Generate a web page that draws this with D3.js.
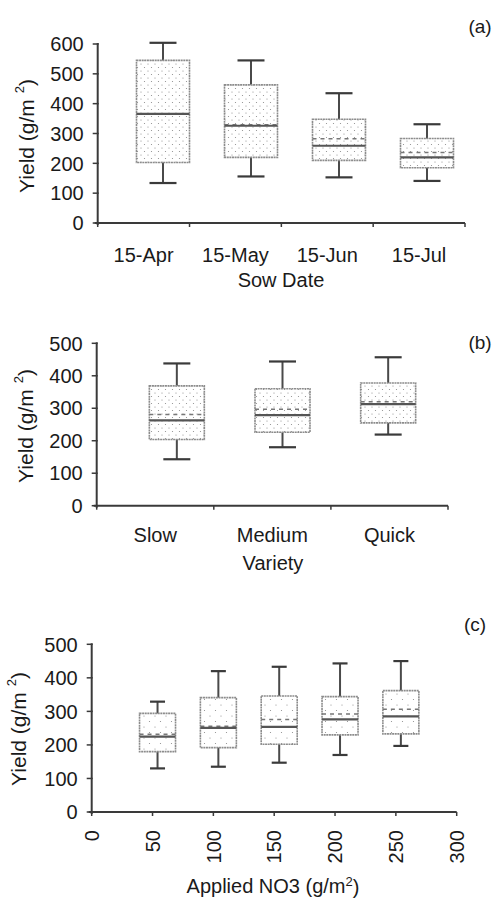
<!DOCTYPE html>
<html lang="en">
<head>
<meta charset="UTF-8">
<title>Yield box plots</title>
<style>
  body { margin: 0; background: #fff; }
  text { font-family: "Liberation Sans", Arial, sans-serif; fill: #1a1a1a; }
</style>
</head>
<body>
<svg id="chart" width="495" height="899"></svg>
<script src="https://d3js.org/d3.v7.min.js"></script>
<script>
// (a) sow date
var sowDates = ["15-Apr", "15-May", "15-Jun", "15-Jul"];
var sowMin    = [134, 156, 153, 141];
var sowQ1     = [203, 220, 210, 185];
var sowMedian = [366, 326, 259, 220];
var sowMean   = [366, 329, 282, 236];
var sowQ3     = [545, 463, 348, 283];
var sowMax    = [604, 545, 435, 331];
var sowTicks  = [0, 100, 200, 300, 400, 500, 600];

// (b) variety
var varieties = ["Slow", "Medium", "Quick"];
var varMin    = [143, 180, 219];
var varQ1     = [204, 226, 255];
var varMedian = [263, 279, 313];
var varMean   = [281, 297, 320];
var varQ3     = [369, 360, 378];
var varMax    = [438, 444, 457];
var varTicks  = [0, 100, 200, 300, 400, 500];

// (c) applied NO3
var no3Rates  = [50, 100, 150, 200, 250];
var no3Min    = [130, 135, 147, 170, 197];
var no3Q1     = [180, 192, 202, 230, 233];
var no3Median = [225, 251, 254, 276, 285];
var no3Mean   = [232, 256, 276, 292, 306];
var no3Q3     = [294, 341, 346, 344, 362];
var no3Max    = [329, 420, 433, 443, 450];
var no3Ticks  = [0, 100, 200, 300, 400, 500];
var no3XTicks = [0, 50, 100, 150, 200, 250, 300];

function rows(keys, mn, q1, med, mean, q3, mx) {
  return keys.map(function(k, i) {
    return { key: k, min: mn[i], q1: q1[i], median: med[i], mean: mean[i], q3: q3[i], max: mx[i] };
  });
}

var svg = d3.select("#chart");

// stipple fills
var defs = svg.append("defs");
function stipple(id, size, r) {
  var p = defs.append("pattern").attr("id", id)
    .attr("patternUnits", "userSpaceOnUse")
    .attr("width", size).attr("height", size);
  p.append("circle").attr("cx", 1).attr("cy", 1).attr("r", r).attr("fill", "#8a8a8a");
  p.append("circle").attr("cx", 1 + size / 2).attr("cy", 1 + size / 2).attr("r", r).attr("fill", "#8a8a8a");
}
stipple("dotsA", 7, 0.6);
stipple("dotsC", 11, 0.6);

function yAxis(y, ticks, x0, labelGap) {
  svg.append("line")
    .attr("x1", x0).attr("x2", x0)
    .attr("y1", y(0) + 2).attr("y2", y(ticks[ticks.length - 1]) - 1)
    .attr("stroke", "#3a3a3a").attr("stroke-width", 2);
  svg.selectAll(null).data(ticks).enter().append("line")
    .attr("x1", x0 - 5).attr("x2", x0 + 1)
    .attr("y1", function(d) { return y(d); }).attr("y2", function(d) { return y(d); })
    .attr("stroke", "#3a3a3a").attr("stroke-width", 1.5);
  svg.selectAll(null).data(ticks).enter().append("text")
    .attr("x", x0 - labelGap).attr("y", function(d) { return y(d); })
    .attr("dy", "0.36em").attr("text-anchor", "end")
    .attr("font-size", 20)
    .text(function(d) { return d; });
}

function xAxisLine(x1, x2, yy, tickXs) {
  svg.append("line")
    .attr("x1", x1 - 3).attr("x2", x2)
    .attr("y1", yy).attr("y2", yy)
    .attr("stroke", "#3a3a3a").attr("stroke-width", 2);
  svg.selectAll(null).data(tickXs).enter().append("line")
    .attr("x1", function(d) { return d; }).attr("x2", function(d) { return d; })
    .attr("y1", yy).attr("y2", yy + 4)
    .attr("stroke", "#3a3a3a").attr("stroke-width", 1.5);
}

function yTitle(cx, cy, size) {
  var t = svg.append("text")
    .attr("transform", "translate(" + cx + "," + cy + ") rotate(-90)")
    .attr("text-anchor", "middle").attr("dy", "0.36em")
    .attr("font-size", size);
  t.append("tspan").text("Yield (g/m ");
  t.append("tspan").attr("font-size", size * 0.62).attr("dy", "-0.7em").text("2");
  t.append("tspan").attr("dy", "0.45em").text(")");
}

function boxes(data, cx, y, w, cap, fill) {
  var g = svg.append("g");
  var b = g.selectAll("g").data(data).enter().append("g");
  // whiskers
  b.append("line")
    .attr("x1", function(d) { return cx(d.key); }).attr("x2", function(d) { return cx(d.key); })
    .attr("y1", function(d) { return y(d.max); }).attr("y2", function(d) { return y(d.q3); })
    .attr("stroke", "#4a4a4a").attr("stroke-width", 2);
  b.append("line")
    .attr("x1", function(d) { return cx(d.key); }).attr("x2", function(d) { return cx(d.key); })
    .attr("y1", function(d) { return y(d.q1); }).attr("y2", function(d) { return y(d.min); })
    .attr("stroke", "#4a4a4a").attr("stroke-width", 2);
  ["max", "min"].forEach(function(k) {
    b.append("line")
      .attr("x1", function(d) { return cx(d.key) - cap / 2; })
      .attr("x2", function(d) { return cx(d.key) + cap / 2; })
      .attr("y1", function(d) { return y(d[k]); }).attr("y2", function(d) { return y(d[k]); })
      .attr("stroke", "#3a3a3a").attr("stroke-width", 2.2);
  });
  b.append("rect")
    .attr("x", function(d) { return cx(d.key) - w / 2; })
    .attr("y", function(d) { return y(d.q3); })
    .attr("width", w)
    .attr("height", function(d) { return y(d.q1) - y(d.q3); })
    .attr("fill", "url(#" + fill + ")")
    .attr("stroke", "#8c8c8c").attr("stroke-width", 1.6)
    .attr("stroke-dasharray", "2 0.6");
  b.append("line")
    .attr("x1", function(d) { return cx(d.key) - w / 2; })
    .attr("x2", function(d) { return cx(d.key) + w / 2; })
    .attr("y1", function(d) { return y(d.mean); }).attr("y2", function(d) { return y(d.mean); })
    .attr("stroke", "#777").attr("stroke-width", 1.5)
    .attr("stroke-dasharray", "4 4");
  b.append("line")
    .attr("x1", function(d) { return cx(d.key) - w / 2; })
    .attr("x2", function(d) { return cx(d.key) + w / 2; })
    .attr("y1", function(d) { return y(d.median); }).attr("y2", function(d) { return y(d.median); })
    .attr("stroke", "#555").attr("stroke-width", 2.2);
}

function panelTag(x, yy, s) {
  svg.append("text").attr("x", x).attr("y", yy)
    .attr("text-anchor", "middle").attr("font-size", 19).text(s);
}

// ---------- (a) ----------
var yA = d3.scaleLinear().domain([0, 600]).range([223, 44]);
var xA = d3.scaleBand().domain(sowDates).range([97.7, 465]);
var bA = d3.scaleBand().domain(sowDates).range([119, 471]);
yAxis(yA, sowTicks, 97.7, 14);
xAxisLine(97.7, 465, yA(0), [97.7].concat(sowDates.map(function(d) { return xA(d) + xA.bandwidth(); })));
boxes(rows(sowDates, sowMin, sowQ1, sowMedian, sowMean, sowQ3, sowMax),
  function(k) { return bA(k) + bA.bandwidth() / 2; }, yA, 53, 27, "dotsA");
svg.selectAll(null).data(sowDates).enter().append("text")
  .attr("x", function(d) { return xA(d) + xA.bandwidth() / 2; })
  .attr("y", 262).attr("text-anchor", "middle").attr("font-size", 20)
  .text(function(d) { return d; });
svg.append("text").attr("x", 281).attr("y", 287).attr("text-anchor", "middle")
  .attr("font-size", 20).text("Sow Date");
yTitle(26, 136, 21);
panelTag(480, 33, "(a)");

// ---------- (b) ----------
var yB = d3.scaleLinear().domain([0, 500]).range([505.7, 343.3]);
var xB = d3.scaleBand().domain(varieties).range([96.7, 448]);
var bB = d3.scaleBand().domain(varieties).range([124, 441]);
yAxis(yB, varTicks, 96.7, 14);
xAxisLine(96.7, 448, yB(0), [96.7].concat(varieties.map(function(d) { return xB(d) + xB.bandwidth(); })));
boxes(rows(varieties, varMin, varQ1, varMedian, varMean, varQ3, varMax),
  function(k) { return bB(k) + bB.bandwidth() / 2; }, yB, 55, 27, "dotsA");
svg.selectAll(null).data(varieties).enter().append("text")
  .attr("x", function(d) { return xB(d) + xB.bandwidth() / 2; })
  .attr("y", 542).attr("text-anchor", "middle").attr("font-size", 20)
  .text(function(d) { return d; });
svg.append("text").attr("x", 273).attr("y", 570).attr("text-anchor", "middle")
  .attr("font-size", 20).text("Variety");
yTitle(25, 426, 21);
panelTag(480, 349, "(b)");

// ---------- (c) ----------
var yC = d3.scaleLinear().domain([0, 500]).range([812, 644.3]);
var xC = d3.scaleLinear().domain([0, 300]).range([91.7, 456.7]);
yAxis(yC, no3Ticks, 91.7, 14);
xAxisLine(91.7, 456.7, yC(0), no3XTicks.map(function(d) { return xC(d); }));
boxes(rows(no3Rates, no3Min, no3Q1, no3Median, no3Mean, no3Q3, no3Max),
  function(k) { return xC(k) + 5; }, yC, 36, 15, "dotsC");
svg.selectAll(null).data(no3XTicks).enter().append("text")
  .attr("transform", function(d) { return "translate(" + xC(d) + ",830) rotate(-90)"; })
  .attr("dy", "0.36em").attr("text-anchor", "end").attr("font-size", 20)
  .text(function(d) { return d; });
var tc = svg.append("text").attr("x", 273).attr("y", 893).attr("text-anchor", "middle")
  .attr("font-size", 20);
tc.append("tspan").text("Applied NO3 (g/m");
tc.append("tspan").attr("font-size", 13).attr("dy", "-0.55em").text("2");
tc.append("tspan").attr("dy", "0.4em").text(")");
yTitle(18, 729, 21);
panelTag(475, 631, "(c)");
</script>
</body>
</html>
